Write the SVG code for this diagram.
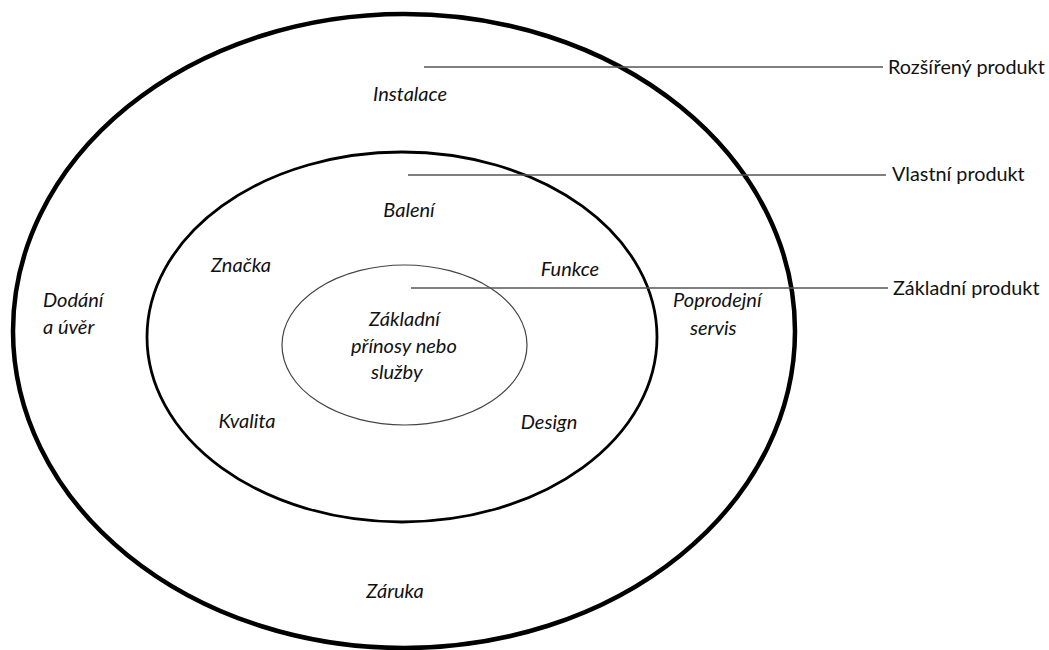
<svg xmlns="http://www.w3.org/2000/svg" width="1049" height="650" viewBox="0 0 1049 650">
<style>
.lbl{font-family:Lato,"Liberation Sans",sans-serif;font-size:20px;font-style:italic;fill:#111}
.side{font-family:Lato,"Liberation Sans",sans-serif;font-size:19.8px;fill:#111}
.lead{stroke:#555;stroke-width:1.4;fill:none}
</style>
<rect width="1049" height="650" fill="#fff"/>
<g id="outer">
<ellipse cx="404" cy="331" rx="391" ry="317" fill="none" stroke="#000" stroke-width="4.5"/>
<text class="lbl" x="410" y="101" text-anchor="middle">Instalace</text>
<text class="lbl" x="43" y="307">Dodání</text>
<text class="lbl" x="43" y="334">a úvěr</text>
<text class="lbl" x="673" y="307">Poprodejní</text>
<text class="lbl" x="690" y="335">servis</text>
<text class="lbl" x="395" y="598" text-anchor="middle">Záruka</text>
</g>
<g id="middle">
<ellipse cx="402" cy="337" rx="255" ry="185" fill="none" stroke="#000" stroke-width="2.8"/>
<text class="lbl" x="409" y="217" text-anchor="middle">Balení</text>
<text class="lbl" x="241" y="272" text-anchor="middle">Značka</text>
<text class="lbl" x="570" y="276" text-anchor="middle">Funkce</text>
<text class="lbl" x="247" y="428" text-anchor="middle">Kvalita</text>
<text class="lbl" x="549" y="429" text-anchor="middle">Design</text>
</g>
<g id="inner">
<ellipse cx="404.5" cy="345" rx="122.5" ry="80" fill="none" stroke="#444" stroke-width="1.2"/>
<text class="lbl" x="369" y="326">Základní</text>
<text class="lbl" x="351" y="353">přínosy nebo</text>
<text class="lbl" x="371" y="379">služby</text>
</g>
<g id="connectors">
<line class="lead" x1="424" y1="67" x2="883" y2="67"/>
<line class="lead" x1="408" y1="175" x2="886" y2="175"/>
<line class="lead" x1="411" y1="288" x2="888" y2="288"/>
</g>
<g id="legend">
<text class="side" x="888" y="74">Rozšířený produkt</text>
<text class="side" x="892" y="181">Vlastní produkt</text>
<text class="side" x="893" y="295">Základní produkt</text>
</g>
</svg>
